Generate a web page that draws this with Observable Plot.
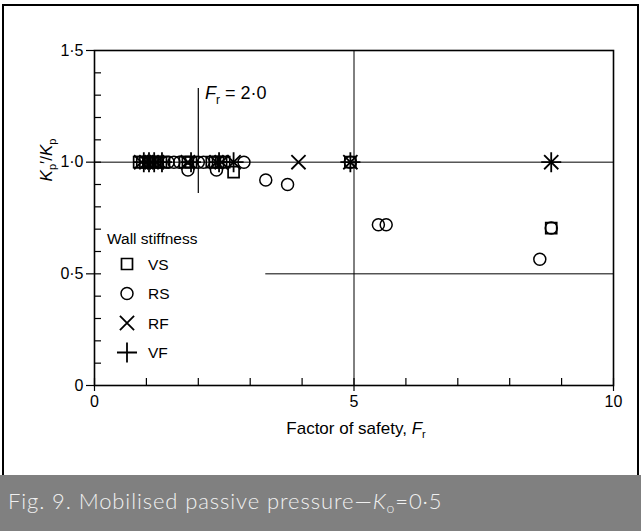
<!DOCTYPE html>
<html><head><meta charset="utf-8">
<script src="https://cdn.jsdelivr.net/npm/d3@7"></script>
<script src="https://cdn.jsdelivr.net/npm/@observablehq/plot@0.6"></script>
<style>
body{margin:0;background:#fff;}
#wrap{position:relative;width:641px;height:531px;overflow:hidden;background:#fff;}
#border{position:absolute;left:2px;top:4px;width:637px;height:490px;border:2px solid #000;box-sizing:border-box;}
#chart{position:absolute;left:0;top:0;}
#caption{position:absolute;left:0;top:475px;width:641px;height:56px;background:#808080;color:#f0f0f0;font-family:Lato,"Open Sans",sans-serif;font-weight:300;font-size:22px;line-height:52px;padding-left:8px;box-sizing:border-box;letter-spacing:0.9px;}
</style></head>
<body>
<div id="wrap"><div id="border"></div><div id="chart"></div><div id="caption">Fig. 9. Mobilised passive pressure—<i>K</i><sub style="font-size:14px;vertical-align:-4px">o</sub>=0·5</div></div>
<script>
// data
const vsX = [0.86, 0.92, 0.98, 1.04, 1.1, 1.16, 1.22, 1.28, 1.34, 1.74, 1.8, 1.86, 2.26, 2.32, 2.38, 2.44, 2.5, 2.68, 4.93, 8.8];
const vsY = [1, 1, 1, 1, 1, 1, 1, 1, 1, 1, 1, 1, 1, 1, 1, 1, 1, 0.955, 1, 0.705];
const rsX = [1.42, 1.53, 1.64, 1.8, 2.0, 2.1, 2.35, 2.88, 3.3, 3.72, 5.47, 5.62, 8.58, 8.8, 4.93];
const rsY = [1, 1, 1, 0.965, 1, 1, 0.965, 1, 0.92, 0.9, 0.72, 0.72, 0.565, 0.705, 1];
const rfX = [0.9, 1.0, 1.1, 1.2, 1.8, 2.35, 2.45, 2.68, 3.93, 4.93, 8.8];
const rfY = [1, 1, 1, 1, 1, 1, 1, 1, 1, 1, 1];
const vfX = [0.95, 1.05, 1.15, 1.3, 1.86, 2.4, 2.68, 4.93, 8.8];
const vfY = [1, 1, 1, 1, 1, 1, 1, 1, 1];
const xTickValues = [0, 5, 10];
const xTickLabels = ["0", "5", "10"];
const xMinor = [0, 1, 2, 3, 4, 5, 6, 7, 8, 9, 10];
const yTickValues = [0, 0.5, 1, 1.5];
const yTickLabels = ["0", "0·5", "1·0", "1·5"];
const yMinor = [0.1, 0.2, 0.3, 0.4, 0.5, 0.6, 0.7, 0.8, 0.9, 1.0, 1.1, 1.2, 1.3, 1.4];
const refY1 = [1.0];
const refY05 = [{y: 0.5, x1: 3.3, x2: 10}];
const refX5 = [5];
const refFr = [{x: 2, y1: 0.86, y2: 1.33}];
const annot = [{x: 2.13, y: 1.31, text: "Fr = 2·0"}];
const legendNames = ["VS", "RS", "RF", "VF"];
const legendTitle = "Wall stiffness";

const pts = (xs, ys) => xs.map((x, i) => ({x, y: ys[i]}));
const font = "'Liberation Sans', Arial, sans-serif";

const plot = Plot.plot({
  width: 641, height: 476,
  marginLeft: 94, marginRight: 28, marginTop: 50, marginBottom: 91,
  x: {domain: [0, 10]},
  y: {domain: [0, 1.5]},
  style: {fontFamily: font, fontSize: "16px", color: "#000", background: "transparent", overflow: "visible"},
  marks: [
    Plot.ruleY(refY1, {stroke: "#000", strokeWidth: 1}),
    Plot.ruleY(refY05, {y: "y", x1: "x1", x2: "x2", stroke: "#000", strokeWidth: 1}),
    Plot.ruleX(refX5, {stroke: "#000", strokeWidth: 1}),
    Plot.ruleX(refFr, {x: "x", y1: "y1", y2: "y2", stroke: "#000", strokeWidth: 1.2}),
    Plot.frame({stroke: "#000", strokeWidth: 1.6}),
    Plot.axisX({ticks: xMinor, tickSize: 7, dy: -7, tickFormat: () => "", strokeWidth: 1.2}),
    Plot.axisX({ticks: xTickValues, tickSize: 6, tickPadding: 4, tickFormat: d => xTickLabels[xTickValues.indexOf(d)], label: null, strokeWidth: 1.2}),
    Plot.axisY({ticks: yMinor, tickSize: 7, dx: 7, tickFormat: () => "", strokeWidth: 1.2}),
    Plot.axisY({ticks: yTickValues, tickSize: 8, tickPadding: 3, tickFormat: d => yTickLabels[yTickValues.indexOf(d)], label: null, strokeWidth: 1.2}),
    Plot.dot(pts(vsX, vsY), {x: "x", y: "y", symbol: "square", r: 6.2, stroke: "#000", strokeWidth: 1.7, fill: "none"}),
    Plot.dot(pts(rsX, rsY), {x: "x", y: "y", symbol: "circle", r: 6, stroke: "#000", strokeWidth: 1.5, fill: "none"}),
    Plot.dot(pts(rfX, rfY), {x: "x", y: "y", symbol: "times", r: 6.5, stroke: "#000", strokeWidth: 1.8}),
    Plot.dot(pts(vfX, vfY), {x: "x", y: "y", symbol: "plus", r: 6.5, stroke: "#000", strokeWidth: 1.8}),
    Plot.text(annot, {x: "x", y: "y", text: "text", textAnchor: "start", fontSize: 18, fill: "#000"})
  ]
});
document.getElementById("chart").appendChild(plot);

const svg = d3.select(plot);
// rich annotation text
svg.selectAll("text").filter(function(){ return this.textContent === "Fr = 2·0"; }).each(function(){
  const t = d3.select(this);
  t.text(null);
  t.append("tspan").attr("font-style", "italic").text("F");
  t.append("tspan").attr("font-size", 12).attr("dy", 5).text("r");
  t.append("tspan").attr("dy", -5).text(" = 2·0");
});
// axis titles
const xt = svg.append("text").attr("x", 356).attr("y", 434).attr("text-anchor", "middle")
  .attr("font-family", font).attr("font-size", 17).attr("fill", "#000");
xt.append("tspan").text("Factor of safety, ");
xt.append("tspan").attr("font-style", "italic").text("F");
xt.append("tspan").attr("font-size", 11).attr("dy", 4).text("r");
const yt = svg.append("text").attr("transform", "translate(52,160) rotate(-90)").attr("text-anchor", "middle")
  .attr("font-family", font).attr("font-size", 17).attr("fill", "#000");
yt.append("tspan").attr("font-style", "italic").text("K");
yt.append("tspan").attr("font-size", 11).attr("dy", 4).text("p");
yt.append("tspan").attr("dy", -4).text("′/");
yt.append("tspan").attr("font-style", "italic").text("K");
yt.append("tspan").attr("font-size", 11).attr("dy", 4).text("p");
// legend
const lg = svg.append("g").attr("font-family", font).attr("font-size", 15.5).attr("fill", "#000").attr("text-anchor", "start");
lg.append("text").attr("x", 107).attr("y", 244).text(legendTitle);
const syms = [d3.symbolSquare, d3.symbolCircle, d3.symbolTimes, d3.symbolPlus];
const rs = [6.2, 6, 6.5, 6.5];
const sws = [1.7, 1.5, 1.8, 1.8];
legendNames.forEach((name, i) => {
  const cy = 264 + i * 29.5;
  lg.append("path").attr("d", d3.symbol(syms[i], rs[i] * rs[i] * Math.PI)())
    .attr("transform", `translate(127,${cy})`).attr("fill", "none").attr("stroke", "#000").attr("stroke-width", sws[i]);
  lg.append("text").attr("x", 148).attr("y", cy + 5.5).text(name);
});
</script>
</body></html>
